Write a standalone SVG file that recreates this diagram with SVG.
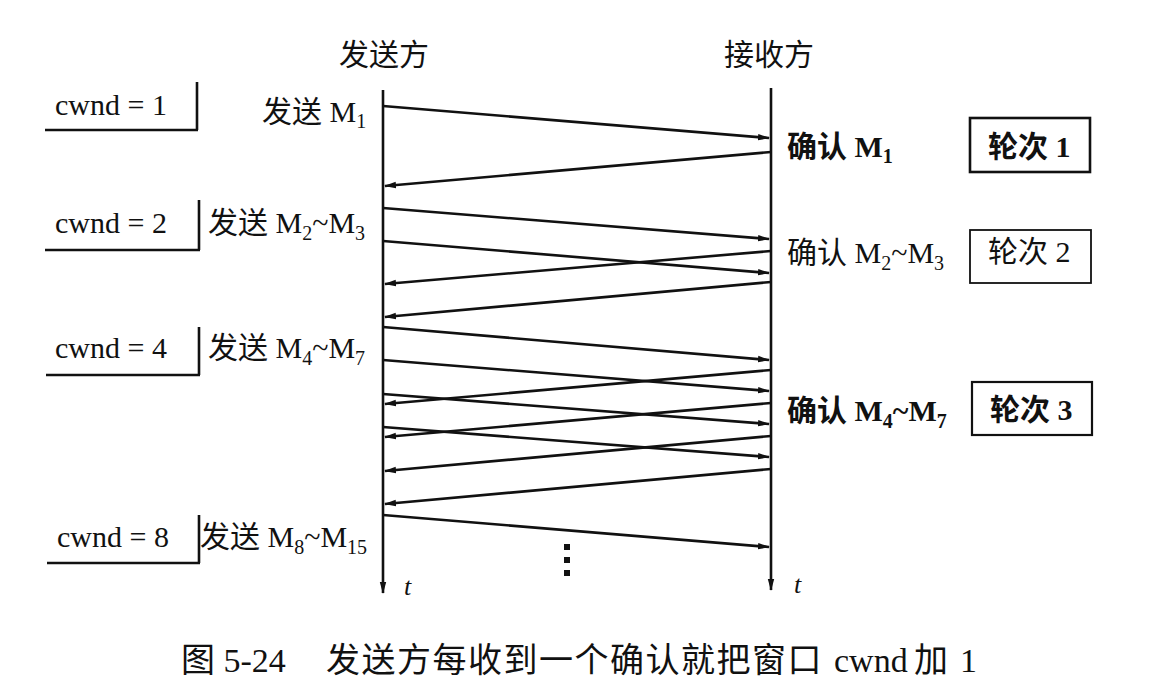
<svg xmlns="http://www.w3.org/2000/svg" width="1160" height="682" viewBox="0 0 1160 682">
<style>
text{font-family:"Liberation Serif","Noto Sans CJK SC",serif;fill:#111;font-size:30px}
.s{font-size:20px}
.b{font-weight:bold}
.ln{stroke:#111;stroke-width:2.6;fill:none}
.ar{stroke:#111;stroke-width:2.6;fill:none;marker-end:url(#ah)}
.tl{stroke:#111;stroke-width:2.6;fill:none;marker-end:url(#ahd)}
.box{fill:none;stroke:#111}
.it{font-style:italic;font-size:26px}
.cap{font-size:34px}
</style>
<defs>
<marker id="ah" markerUnits="userSpaceOnUse" markerWidth="12" markerHeight="8" refX="11" refY="4" orient="auto">
<path d="M0,0.8 L12,4 L0,7.2 z" fill="#111"/>
</marker>
<marker id="ahd" markerUnits="userSpaceOnUse" markerWidth="12" markerHeight="8" refX="11" refY="4" orient="auto">
<path d="M0,0.8 L12,4 L0,7.2 z" fill="#111"/>
</marker>
</defs>
<rect width="1160" height="682" fill="#fff"/>

<g id="sender">
<text x="339" y="65">发送方</text>
<line class="tl" x1="383" y1="90" x2="383" y2="593"/>
<text class="it" x="404" y="595">t</text>
</g>
<g id="receiver">
<text x="724" y="65">接收方</text>
<line class="tl" x1="771" y1="88" x2="771" y2="590"/>
<text class="it" x="794" y="593">t</text>
</g>

<g id="cwnd1">
<path class="ln" d="M45,130 H198 M197,82 V130"/>
<text x="55" y="115">cwnd = 1</text>
<text x="262" y="122">发送 M<tspan class="s" dy="6">1</tspan></text>
</g>
<g id="cwnd2">
<path class="ln" d="M45,250 H200 M199,200 V250"/>
<text x="55" y="233">cwnd = 2</text>
<text x="208" y="233">发送 M<tspan class="s" dy="7">2</tspan><tspan dy="-7">~M</tspan><tspan class="s" dy="7">3</tspan></text>
</g>
<g id="cwnd4">
<path class="ln" d="M46,375 H200 M199,327 V375"/>
<text x="55" y="358">cwnd = 4</text>
<text x="208" y="358">发送 M<tspan class="s" dy="7">4</tspan><tspan dy="-7">~M</tspan><tspan class="s" dy="7">7</tspan></text>
</g>
<g id="cwnd8">
<path class="ln" d="M47,563 H200 M199,515 V563"/>
<text x="57" y="547">cwnd = 8</text>
<text x="200" y="547">发送 M<tspan class="s" dy="7">8</tspan><tspan dy="-7">~M</tspan><tspan class="s" dy="7">15</tspan></text>
</g>

<g id="ack1">
<text class="b" x="787" y="157">确认 M<tspan class="s" dy="6">1</tspan></text>
</g>
<g id="ack2">
<text x="787" y="263">确认 M<tspan class="s" dy="7">2</tspan><tspan dy="-7">~M</tspan><tspan class="s" dy="7">3</tspan></text>
</g>
<g id="ack3">
<text class="b" x="787" y="421">确认 M<tspan class="s" dy="7">4</tspan><tspan dy="-7">~M</tspan><tspan class="s" dy="7">7</tspan></text>
</g>

<g id="round1">
<rect class="box" x="970" y="118" width="120" height="54" stroke-width="2.6"/>
<text class="b" x="988" y="157">轮次 1</text>
</g>
<g id="round2">
<rect class="box" x="970" y="230" width="121" height="53" stroke-width="1.8"/>
<text x="988" y="262">轮次 2</text>
</g>
<g id="round3">
<rect class="box" x="972" y="382" width="120" height="53" stroke-width="2.2"/>
<text class="b" x="990" y="420">轮次 3</text>
</g>

<g id="connectors">
<line class="ar" x1="383" y1="106" x2="769" y2="138"/>
<line class="ar" x1="771" y1="152" x2="385" y2="186"/>
<line class="ar" x1="383" y1="208" x2="769" y2="239"/>
<line class="ar" x1="383" y1="241" x2="769" y2="273"/>
<line class="ar" x1="771" y1="251" x2="385" y2="284"/>
<line class="ar" x1="771" y1="282" x2="385" y2="317"/>
<line class="ar" x1="383" y1="327" x2="769" y2="360"/>
<line class="ar" x1="383" y1="360" x2="769" y2="391"/>
<line class="ar" x1="771" y1="370" x2="385" y2="404"/>
<line class="ar" x1="383" y1="394" x2="769" y2="424"/>
<line class="ar" x1="771" y1="403" x2="385" y2="437"/>
<line class="ar" x1="383" y1="427" x2="769" y2="457"/>
<line class="ar" x1="771" y1="436" x2="385" y2="471"/>
<line class="ar" x1="771" y1="469" x2="385" y2="504"/>
<line class="ar" x1="383" y1="515" x2="769" y2="547"/>
</g>

<g id="ellipsis" fill="#111">
<rect x="564" y="544" width="6" height="6"/>
<rect x="564" y="557" width="6" height="6"/>
<rect x="564" y="570" width="6" height="6"/>
</g>

<g id="caption">
<text class="cap" x="181" y="672">图 5-24</text>
<text class="cap" x="326" y="672"><tspan letter-spacing="1.5">发送方每收到一个确认就把窗口</tspan><tspan x="834">cwnd</tspan><tspan x="914">加</tspan><tspan x="960">1</tspan></text>
</g>
</svg>
